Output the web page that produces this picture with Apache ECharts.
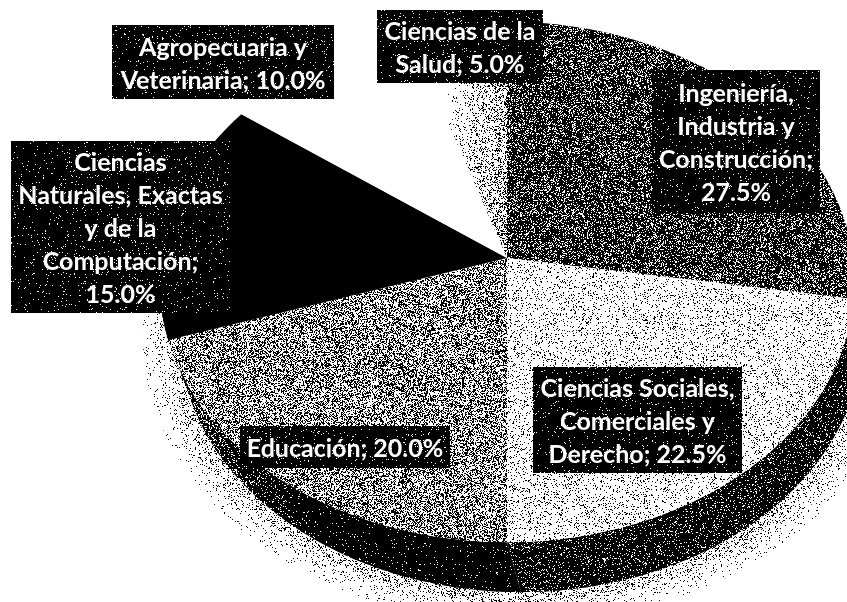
<!DOCTYPE html>
<html>
<head>
<meta charset="utf-8">
<style>html,body{margin:0;padding:0;background:#fff;overflow:hidden}#c{width:847px;height:602px}</style>
<script src="https://cdn.jsdelivr.net/npm/echarts@6/dist/echarts.min.js"></script>
</head>
<body>
<div id="c"></div>
<script>
// Data
const categories = ['Ingeniería,\nIndustria y\nConstrucción', 'Ciencias Sociales,\nComerciales y\nDerecho', 'Educación', 'Ciencias\nNaturales, Exactas\ny de la\nComputación', 'Agropecuaria y\nVeterinaria', 'Ciencias de la\nSalud'];
const values = [27.5, 22.5, 20.0, 15.0, 10.0, 5.0];
const separators = [';\n', '; ', '; ', ';\n', '; ', '; '];

// Layout and style, separate from the data
const W = 847, H = 602;
const labelBoxes = [[652,70,820,213],[533,367,742,473],[240,426,450,468],[11,141,230,313],[112,25,334,99],[377,10,543,83]];
const CX = 507, CY = 258, RX = 346, RY = 258, PERSP = 0.092;
const WALL_DX = 14, WALL_DY = 50, WALL_SX = 0.985;
const DEG = Math.PI / 180;

function noise(x, y) {
  const s = Math.sin(x * 127.1 + y * 311.7) * 43758.5453;
  return s - Math.floor(s);
}
function dither(tone) {
  const cv = document.createElement('canvas');
  cv.width = W; cv.height = H;
  const ctx = cv.getContext('2d');
  const img = ctx.createImageData(W, H);
  for (let y = 0; y < H; y++) for (let x = 0; x < W; x++) {
    const i = (y * W + x) * 4;
    const v = noise(x, y) < tone(x, y) ? 255 : 0;
    img.data[i] = img.data[i + 1] = img.data[i + 2] = v;
    img.data[i + 3] = 255;
  }
  ctx.putImageData(img, 0, 0);
  return { image: cv, repeat: 'no-repeat' };
}
const clamp = (v, a, b) => Math.max(a, Math.min(b, v));
const faceFills = [
  dither(() => 0.25),
  dither(() => 0.88),
  dither(() => 0.55),
  '#000000',
  '#ffffff',
  dither((x) => clamp(1 - (x - 445) / 62 * 0.36, 0.64, 1))
];
const wallFills = [
  dither(() => 0.12),
  dither(() => 0.12),
  dither((x) => x < 200 ? 0.25 : x < 320 ? 0.25 - (x - 200) / 120 * 0.22 : 0.03),
  '#000000'
];
const boxFill = dither(() => 0.035);
const shadowFills = [dither(() => 0.96), dither(() => 0.9), dither(() => 0.8)];
const shadowScales = [1.105, 1.07, 1.035];

function rim(t) {
  const X = Math.sin(t), Y = Math.cos(t), d = 1 + PERSP * Y;
  return [CX + RX * X / d, CY - RY * Y / d];
}
function wallRim(t) {
  const p = rim(t);
  return [CX + (p[0] - CX) * WALL_SX + WALL_DX, p[1] + WALL_DY];
}
function arc(a0, a1, fn) {
  const pts = [], n = Math.max(2, Math.ceil((a1 - a0) / DEG));
  for (let i = 0; i <= n; i++) pts.push(fn(a0 + (a1 - a0) * i / n));
  return pts;
}

const total = values.reduce((a, b) => a + b, 0);

function renderItem(params, api) {
  const i = params.dataIndex;
  const val = api.value(1);
  let before = 0;
  for (let j = 0; j < i; j++) before += values[j];
  const a0 = before / total * 2 * Math.PI;
  const a1 = (before + val) / total * 2 * Math.PI;
  const children = [];

  if (i === 0) {
    shadowScales.forEach((s, n) => {
      const oc = [CX + WALL_DX, CY + 30];
      const pts = arc(95 * DEG, 278 * DEG, wallRim).map(p => [oc[0] + (p[0] - oc[0]) * s, oc[1] + (p[1] - oc[1]) * s]);
      children.push({ type: 'polygon', z2: 1 + n, shape: { points: pts }, style: { fill: shadowFills[n] } });
    });
  }

  // side wall: only the part of the slice on the near side of the disc
  const w0 = Math.max(a0, 85 * DEG), w1 = Math.min(a1, 278 * DEG);
  if (w1 > w0) {
    const pts = arc(w0, w1, rim).concat(arc(w0, w1, wallRim).reverse());
    children.push({ type: 'polygon', z2: 10, shape: { points: pts }, style: { fill: wallFills[i] } });
  }

  // top face
  children.push({
    type: 'polygon', z2: 20,
    shape: { points: [[CX, CY]].concat(arc(a0, a1, rim)) },
    style: { fill: faceFills[i] }
  });

  // label
  const b = labelBoxes[i];
  children.push({ type: 'rect', z2: 30, shape: { x: b[0], y: b[1], width: b[2] - b[0], height: b[3] - b[1] }, style: { fill: boxFill } });
  children.push({
    type: 'text', z2: 31,
    style: {
      x: (b[0] + b[2]) / 2, y: (b[1] + b[3]) / 2 + 2,
      text: categories[i] + separators[i] + val.toFixed(1) + '%',
      fill: '#ffffff', font: 'bold 25px Lato', lineHeight: 33,
      align: 'center', verticalAlign: 'middle'
    }
  });
  return { type: 'group', children };
}

const chart = echarts.init(document.getElementById('c'), null, { renderer: 'canvas', width: W, height: H });
chart.setOption({
  animation: false,
  backgroundColor: '#ffffff',
  series: [{
    type: 'custom',
    coordinateSystem: 'none',
    silent: true,
    renderItem,
    data: values.map((v, i) => [i, v])
  }]
});
</script>
</body>
</html>
